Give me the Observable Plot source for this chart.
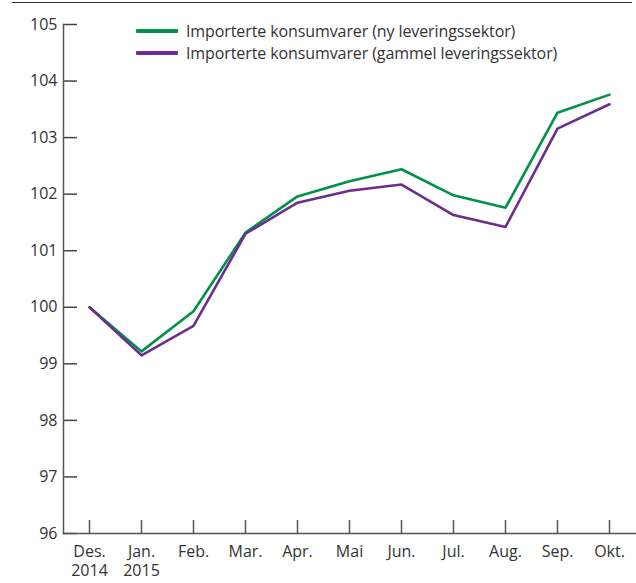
<!DOCTYPE html>
<html>
<head>
<meta charset="utf-8">
<script src="https://cdn.jsdelivr.net/npm/d3@7"></script>
<script src="https://cdn.jsdelivr.net/npm/@observablehq/plot@0.6"></script>
<style>
  html, body { margin: 0; padding: 0; background: #fff; }
  #wrap { position: relative; width: 636px; height: 583px; font-family: "Open Sans", sans-serif; }
  #topline { position: absolute; left: 12px; top: 2px; width: 620px; height: 0; border-top: 1.5px solid #333; }
  #legend { position: absolute; left: 136px; top: 20px; font-size: 16px; color: #333; line-height: 22px; letter-spacing: -0.1px; }
  .item { display: flex; align-items: center; white-space: nowrap; }
  .sw { width: 42px; height: 3.5px; margin-right: 8px; border-radius: 1px; }
</style>
</head>
<body>
<div id="wrap">
  <div id="topline"></div>
  <div id="chart"></div>
  <div id="legend"></div>
</div>
<script>
const months = ["Des.\n2014", "Jan.\n2015", "Feb.", "Mar.", "Apr.", "Mai", "Jun.", "Jul.", "Aug.", "Sep.", "Okt."];
const seriesNames = ["Importerte konsumvarer (ny leveringssektor)", "Importerte konsumvarer (gammel leveringssektor)"];
const seriesColors = ["#00924a", "#6b2d90"];
const nyValues = [100.0, 99.22, 99.93, 101.32, 101.96, 102.23, 102.44, 101.98, 101.76, 103.44, 103.76];
const gammelValues = [100.0, 99.15, 99.67, 101.30, 101.85, 102.06, 102.17, 101.63, 101.42, 103.16, 103.59];
const yTicks = [96, 97, 98, 99, 100, 101, 102, 103, 104, 105];

const data = [];
months.forEach((m, i) => {
  data.push({month: m, value: nyValues[i], series: seriesNames[0]});
  data.push({month: m, value: gammelValues[i], series: seriesNames[1]});
});

const chart = Plot.plot({
  width: 636,
  height: 583,
  marginLeft: 63,
  marginRight: 1,
  marginTop: 24,
  marginBottom: 50,
  style: {fontFamily: "'Open Sans', sans-serif", fontSize: "16px", color: "#333", background: "#fff"},
  x: {type: "point", domain: months, padding: 0.5},
  y: {domain: [96, 105]},
  color: {domain: seriesNames, range: seriesColors},
  marks: [
    Plot.axisY({ticks: yTicks, tickSize: 0, tickPadding: 6, fontSize: 16, fill: "#333", label: null}),
    Plot.axisY({ticks: yTicks, tickSize: 14, dx: 14, text: null, stroke: "#444", strokeWidth: 1.5, label: null}),
    Plot.axisX({tickSize: 0, tickPadding: 10, fontSize: 16, fill: "#333", lineHeight: 1.2, label: null}),
    Plot.axisX({tickSize: 13, dy: -13, text: null, stroke: "#555", strokeWidth: 1.5, label: null}),
    Plot.frame({anchor: "left", stroke: "#555", strokeWidth: 1.5}),
    Plot.frame({anchor: "bottom", stroke: "#555", strokeWidth: 1.5}),
    Plot.line(data, {x: "month", y: "value", z: "series", stroke: "series", strokeWidth: 2.6})
  ]
});
document.getElementById("chart").appendChild(chart);

const legend = document.getElementById("legend");
seriesNames.forEach((name, i) => {
  const item = document.createElement("div");
  item.className = "item";
  const sw = document.createElement("span");
  sw.className = "sw";
  sw.style.background = seriesColors[i];
  const t = document.createElement("span");
  t.textContent = name;
  item.appendChild(sw);
  item.appendChild(t);
  legend.appendChild(item);
});
</script>
</body>
</html>
